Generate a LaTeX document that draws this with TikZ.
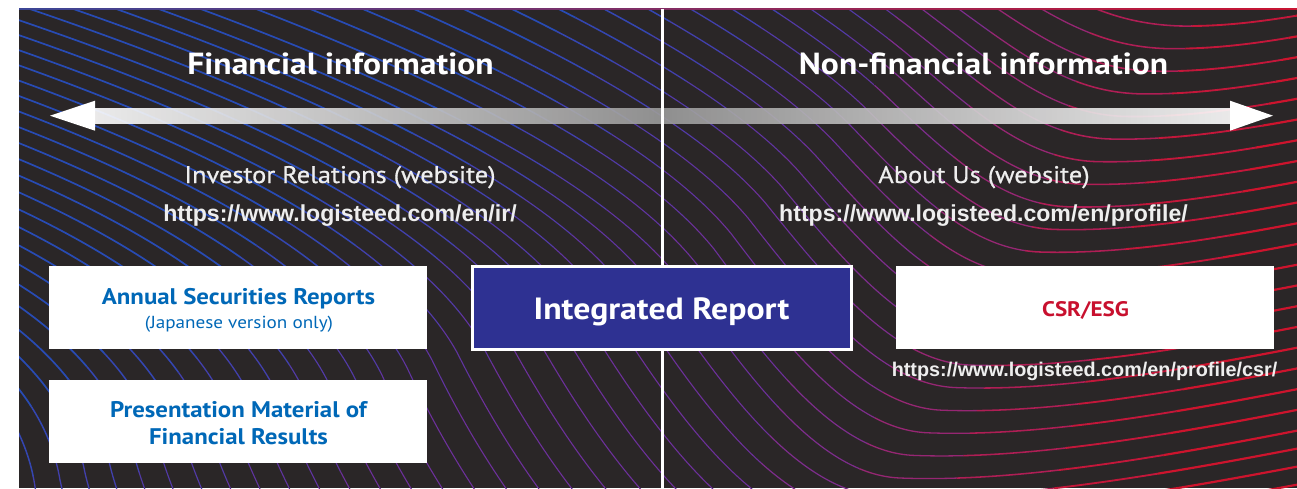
\documentclass[tikz,border=0pt]{standalone}
\usepackage{fontspec}
\setmainfont[FakeStretch=1.1]{PT Sans}
\newfontfamily\subfont[FakeStretch=1.1,FakeBold=0.7]{PT Sans}
\newfontfamily\urlfont{Liberation Sans}
\usetikzlibrary{calc}
\definecolor{panelbg}{RGB}{42,38,39}
\definecolor{irblue}{RGB}{46,49,146}
\definecolor{txtblue}{RGB}{0,104,183}
\definecolor{txtred}{RGB}{200,16,46}
\definecolor{barmid}{RGB}{155,155,155}
\definecolor{subgray}{RGB}{238,238,238}
\definecolor{edgeblue}{RGB}{60,70,150}
\definecolor{edgered}{RGB}{200,20,50}

\newcommand\wavecurve[3]{%
 \draw ($(#1A)!#3!(#2A)$) .. controls ($(#1Ao)!#3!(#2Ao)$) and ($(#1Bi)!#3!(#2Bi)$) .. ($(#1B)!#3!(#2B)$)
  .. controls ($(#1Bo)!#3!(#2Bo)$) and ($(#1Ci)!#3!(#2Ci)$) .. ($(#1C)!#3!(#2C)$)
  .. controls ($(#1Co)!#3!(#2Co)$) and ($(#1Di)!#3!(#2Di)$) .. ($(#1D)!#3!(#2D)$);}
\newcommand\drawwaves{%
 \foreach \k in {-1,...,20}{\pgfmathsetmacro\s{\k/20}\wavecurve{T}{M}{\s}}%
 \foreach \k in {1,...,30}{\pgfmathsetmacro\s{\k/25}\wavecurve{M}{B}{\s}}}

\begin{document}
\begin{tikzpicture}[x=1pt,y=-1pt,
  wbox/.style={draw=none,fill=white,minimum width=378pt,minimum height=83pt,inner sep=0pt,outer sep=0pt},
  irbox/.style={draw=white,line width=3pt,fill=irblue,minimum width=379pt,minimum height=83pt,inner sep=0pt},
  titletext/.style={anchor=base,inner sep=0pt,text=white,font=\bfseries\fontsize{30.5}{36}\selectfont},
  subtext/.style={anchor=base,inner sep=0pt,text=subgray,font=\subfont\fontsize{24}{28}\selectfont},
  urltext/.style={anchor=base,inner sep=0pt,text=subgray,font=\urlfont\bfseries\fontsize{23.1}{27}\selectfont},
  smallurl/.style={anchor=base,inner sep=0pt,text=subgray,font=\urlfont\bfseries\fontsize{19.8}{24}\selectfont},
  boxtext/.style={anchor=base,inner sep=0pt,text=txtblue,font=\bfseries\fontsize{22.6}{28}\selectfont},
  noteText/.style={anchor=base,inner sep=0pt,text=txtblue,font=\fontsize{17.4}{20}\selectfont},
  irtext/.style={anchor=base,inner sep=0pt,text=white,font=\bfseries\fontsize{30.7}{36}\selectfont},
  csrtext/.style={anchor=base,inner sep=0pt,text=txtred,font=\bfseries\fontsize{21}{26}\selectfont},
  divider/.style={draw=white,line width=3pt}
]
\useasboundingbox (0,0) rectangle (1297,488);
\fill[white] (0,0) rectangle (1297,488);
\fill[panelbg] (19,9) rectangle (1297,488);

% key curves of the wave blend
\coordinate (TA) at (700,-300);  \coordinate (TAo) at (830,-200); \coordinate (TBi) at (930,-82);
\coordinate (TB) at (1020,-30);  \coordinate (TBo) at (1080,5);   \coordinate (TCi) at (1120,24);
\coordinate (TC) at (1180,26);   \coordinate (TCo) at (1260,27);  \coordinate (TDi) at (1330,10);
\coordinate (TD) at (1500,-25);
\coordinate (MA) at (-300,-150); \coordinate (MAo) at (50,-50);   \coordinate (MBi) at (540,100);
\coordinate (MB) at (680,280);   \coordinate (MBo) at (750,380);  \coordinate (MCi) at (820,475);
\coordinate (MC) at (900,478);   \coordinate (MCo) at (1050,484); \coordinate (MDi) at (1250,440);
\coordinate (MD) at (1450,400);
\coordinate (BA) at (-500,150);  \coordinate (BAo) at (-250,220); \coordinate (BBi) at (30,300);
\coordinate (BB) at (60,480);    \coordinate (BBo) at (85,600);   \coordinate (BCi) at (250,900);
\coordinate (BC) at (500,950);   \coordinate (BCo) at (800,960);  \coordinate (BDi) at (1200,900);
\coordinate (BD) at (1500,850);

\begin{scope}
\clip (19,9) rectangle (1297,488);
\begin{scope}
 \clip (0,-20) -- (906,-20) -- (750,500) -- (0,500) -- cycle;
 \foreach \ca/\cb/\r/\g/\bb/\w in {-2000/600/40/75/180/1.7, 600/700/52/70/177/1.5, 700/800/66/64/172/1.3, 800/900/82/58/166/1.15, 900/1000/96/52/160/1.1, 1000/5000/108/48/154/1.1}{
  \begin{scope}
   \clip (\ca+28,-20) -- (\cb+28,-20) -- (\cb-700,500) -- (\ca-700,500) -- cycle;
   \definecolor{wavec}{RGB}{\r,\g,\bb}
   \begin{scope}[draw=wavec,line width=\w pt]\drawwaves\end{scope}
  \end{scope}}
\end{scope}
\begin{scope}
 \clip (906,-20) -- (1400,-20) -- (1400,500) -- (750,500) -- cycle;
 \foreach \ca/\cb/\r/\g/\bb/\w in {900/1000/125/45/140/1.2, 1000/1100/150/38/115/1.3, 1100/1200/175/30/85/1.55, 1200/1300/195/23/58/1.85, 1300/5000/205/20/45/2.2}{
  \begin{scope}
   \clip (\ca+6,-20) -- (\cb+6,-20) -- (\cb-150,500) -- (\ca-150,500) -- cycle;
   \definecolor{wavec}{RGB}{\r,\g,\bb}
   \begin{scope}[draw=wavec,line width=\w pt]\drawwaves\end{scope}
  \end{scope}}
\end{scope}
\end{scope}
\shade[left color=edgeblue,right color=edgered] (19,8.6) rectangle (1297,9.8);

% double arrow
\coordinate (la) at (50,115.7);
\coordinate (ra) at (1273,115.7);
\shade[left color=white,right color=white,middle color=barmid,fill opacity=0.9] (95,108.3) rectangle (1230,123.3);
\fill[white] (la) -- ($(la)+(45,-15)$) -- ($(la)+(45,15)$) -- cycle;
\fill[white] (ra) -- ($(ra)+(-43,-15)$) -- ($(ra)+(-43,15)$) -- cycle;

% divider
\coordinate (dtop) at (662,9);
\coordinate (dbot) at (662,488);
\draw[divider] (dtop) -- (dbot);

% headings
\node[titletext] (fin) at (340.5,74) {Financial information};
\node[titletext] (nonfin) at (983.5,74) {Non-financial information};
\node[subtext] (irsite) at (340,183) {Investor Relations (website)};
\node[subtext] (aboutsite) at (984,183) {About Us (website)};
\node[urltext] (irurl) at (340,221) {https://www.logisteed.com/en/ir/};
\node[urltext] (abouturl) at (983.5,221) {https://www.logisteed.com/en/profile/};

% boxes
\node[wbox] (asr) at (238,307.5) {};
\node[wbox] (pmr) at (238,421.5) {};
\node[irbox] (intrep) at (662,308) {};
\node[wbox] (csr) at (1085,307.5) {};

\node[boxtext] (asrt) at (238.5,304) {Annual Securities Reports};
\node[noteText] (asrn) at (239,328) {(Japanese version only)};
\node[boxtext] (pmr1) at (238.5,417) {Presentation Material of};
\node[boxtext] (pmr2) at (238.5,444) {Financial Results};
\node[irtext] (intrept) at (661.5,319) {Integrated Report};
\node[csrtext] (csrt) at (1085.5,316) {CSR/ESG};
\node[smallurl] (csrurl) at (1084.5,376) {https://www.logisteed.com/en/profile/csr/};
\end{tikzpicture}
\end{document}
